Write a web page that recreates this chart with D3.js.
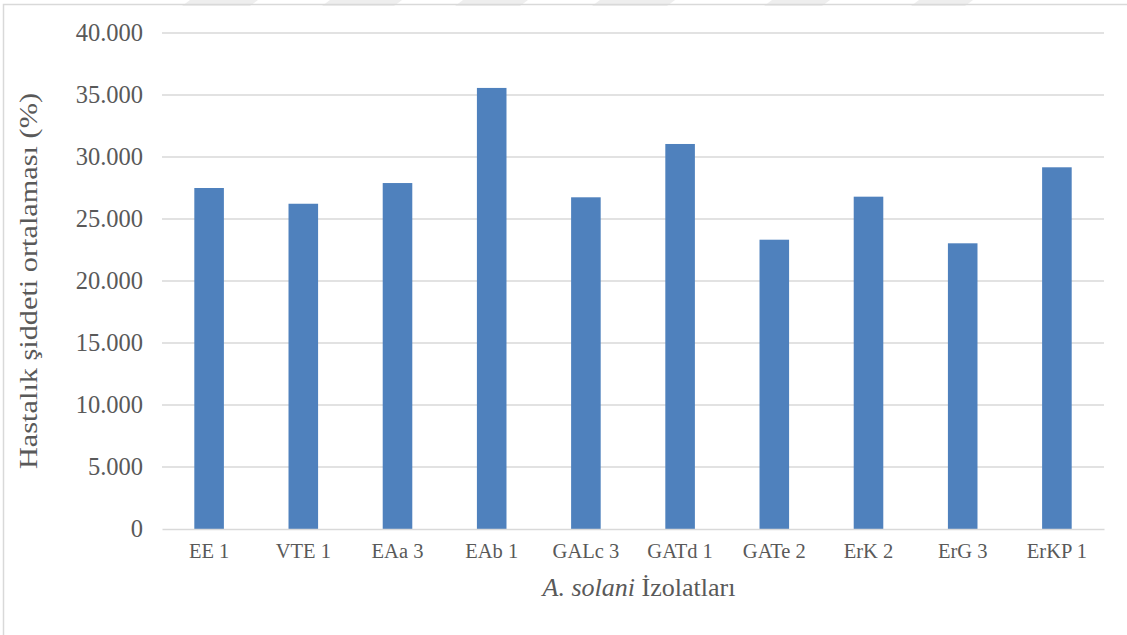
<!DOCTYPE html>
<html>
<head>
<meta charset="utf-8">
<script src="https://cdn.jsdelivr.net/npm/d3@7"></script>
<style>
  html, body { margin: 0; padding: 0; background: #ffffff; }
  svg { display: block; }
</style>
</head>
<body>
<svg id="chart" width="1127" height="635"></svg>
<script>
// Isolates and their mean disease severity (%)
const isolates = ["EE 1", "VTE 1", "EAa 3", "EAb 1", "GALc 3", "GATd 1", "GATe 2", "ErK 2", "ErG 3", "ErKP 1"];
const severity = [27.500, 26.230, 27.900, 35.570, 26.750, 31.050, 23.330, 26.800, 23.040, 29.170];
const yTicks = [0, 5, 10, 15, 20, 25, 30, 35, 40];
const yTitle = "Hastalık şiddeti ortalaması (%)";

const svg = d3.select("#chart");
const W = 1127, H = 635;
const plot = { left: 162, right: 1104, top: 33, bottom: 529 };
const serif = "'Liberation Serif', 'Times New Roman', serif";

// faint slanted page marks along the top edge
const marks = [[182, 250], [322, 394], [455, 520], [592, 667], [764, 822], [911, 965]];
svg.append("g")
  .selectAll("path")
  .data(marks)
  .join("path")
  .attr("d", d => `M${d[0] + 8},0 H${d[1] + 8} L${d[1]},6 H${d[0]} Z`)
  .attr("fill", "#eeeeee");

// chart frame
svg.append("path")
  .attr("d", `M3.5,${H} V4.5 H${W}`)
  .attr("fill", "none")
  .attr("stroke", "#d9d9d9")
  .attr("stroke-width", 1.5);

const x = d3.scaleBand()
  .domain(isolates)
  .range([plot.left, plot.right])
  .paddingInner(0.686)
  .paddingOuter(0.343);

const y = d3.scaleLinear()
  .domain([0, 40])
  .range([plot.bottom, plot.top]);

const fmt = v => v === 0 ? "0" : d3.format(".3f")(v);

// horizontal gridlines
svg.append("g")
  .selectAll("line")
  .data(yTicks.filter(t => t > 0))
  .join("line")
  .attr("x1", plot.left)
  .attr("x2", plot.right)
  .attr("y1", d => y(d))
  .attr("y2", d => y(d))
  .attr("stroke", "#d9d9d9")
  .attr("stroke-width", 1.5);

// value axis labels
const yAxis = d3.axisLeft(y).tickValues(yTicks).tickFormat(fmt).tickSize(0).tickPadding(19);
svg.append("g")
  .attr("transform", `translate(${plot.left},0)`)
  .call(yAxis)
  .call(g => g.select(".domain").remove())
  .call(g => g.selectAll("text")
    .attr("font-family", serif)
    .attr("font-size", 24.5)
    .attr("fill", "#595959"));

// bars
svg.append("g")
  .selectAll("rect")
  .data(isolates.map((k, i) => ({ k, v: severity[i] })))
  .join("rect")
  .attr("x", d => x(d.k))
  .attr("width", x.bandwidth())
  .attr("y", d => y(d.v))
  .attr("height", d => y(0) - y(d.v))
  .attr("fill", "#4f81bd");

// category axis
const xAxis = d3.axisBottom(x).tickSize(0).tickPadding(14);
svg.append("g")
  .attr("transform", `translate(0,${plot.bottom})`)
  .call(xAxis)
  .call(g => g.select(".domain")
    .attr("stroke", "#d9d9d9")
    .attr("stroke-width", 1.5))
  .call(g => g.selectAll("text")
    .attr("font-family", serif)
    .attr("font-size", 20.5)
    .attr("fill", "#595959"));

// axis titles
const xTitle = svg.append("text")
  .attr("x", (plot.left + plot.right) / 2 + 6)
  .attr("y", 596)
  .attr("text-anchor", "middle")
  .attr("font-family", serif)
  .attr("font-size", 26)
  .attr("fill", "#595959");
xTitle.append("tspan").attr("font-style", "italic").text("A. solani");
xTitle.append("tspan").text(" İzolatları");

svg.append("text")
  .attr("transform", `translate(37,${(plot.top + plot.bottom) / 2}) rotate(-90)`)
  .attr("x", -188)
  .attr("text-anchor", "start")
  .attr("textLength", 376)
  .attr("lengthAdjust", "spacingAndGlyphs")
  .attr("font-family", serif)
  .attr("font-size", 25)
  .attr("fill", "#595959")
  .text(yTitle);
</script>
</body>
</html>
